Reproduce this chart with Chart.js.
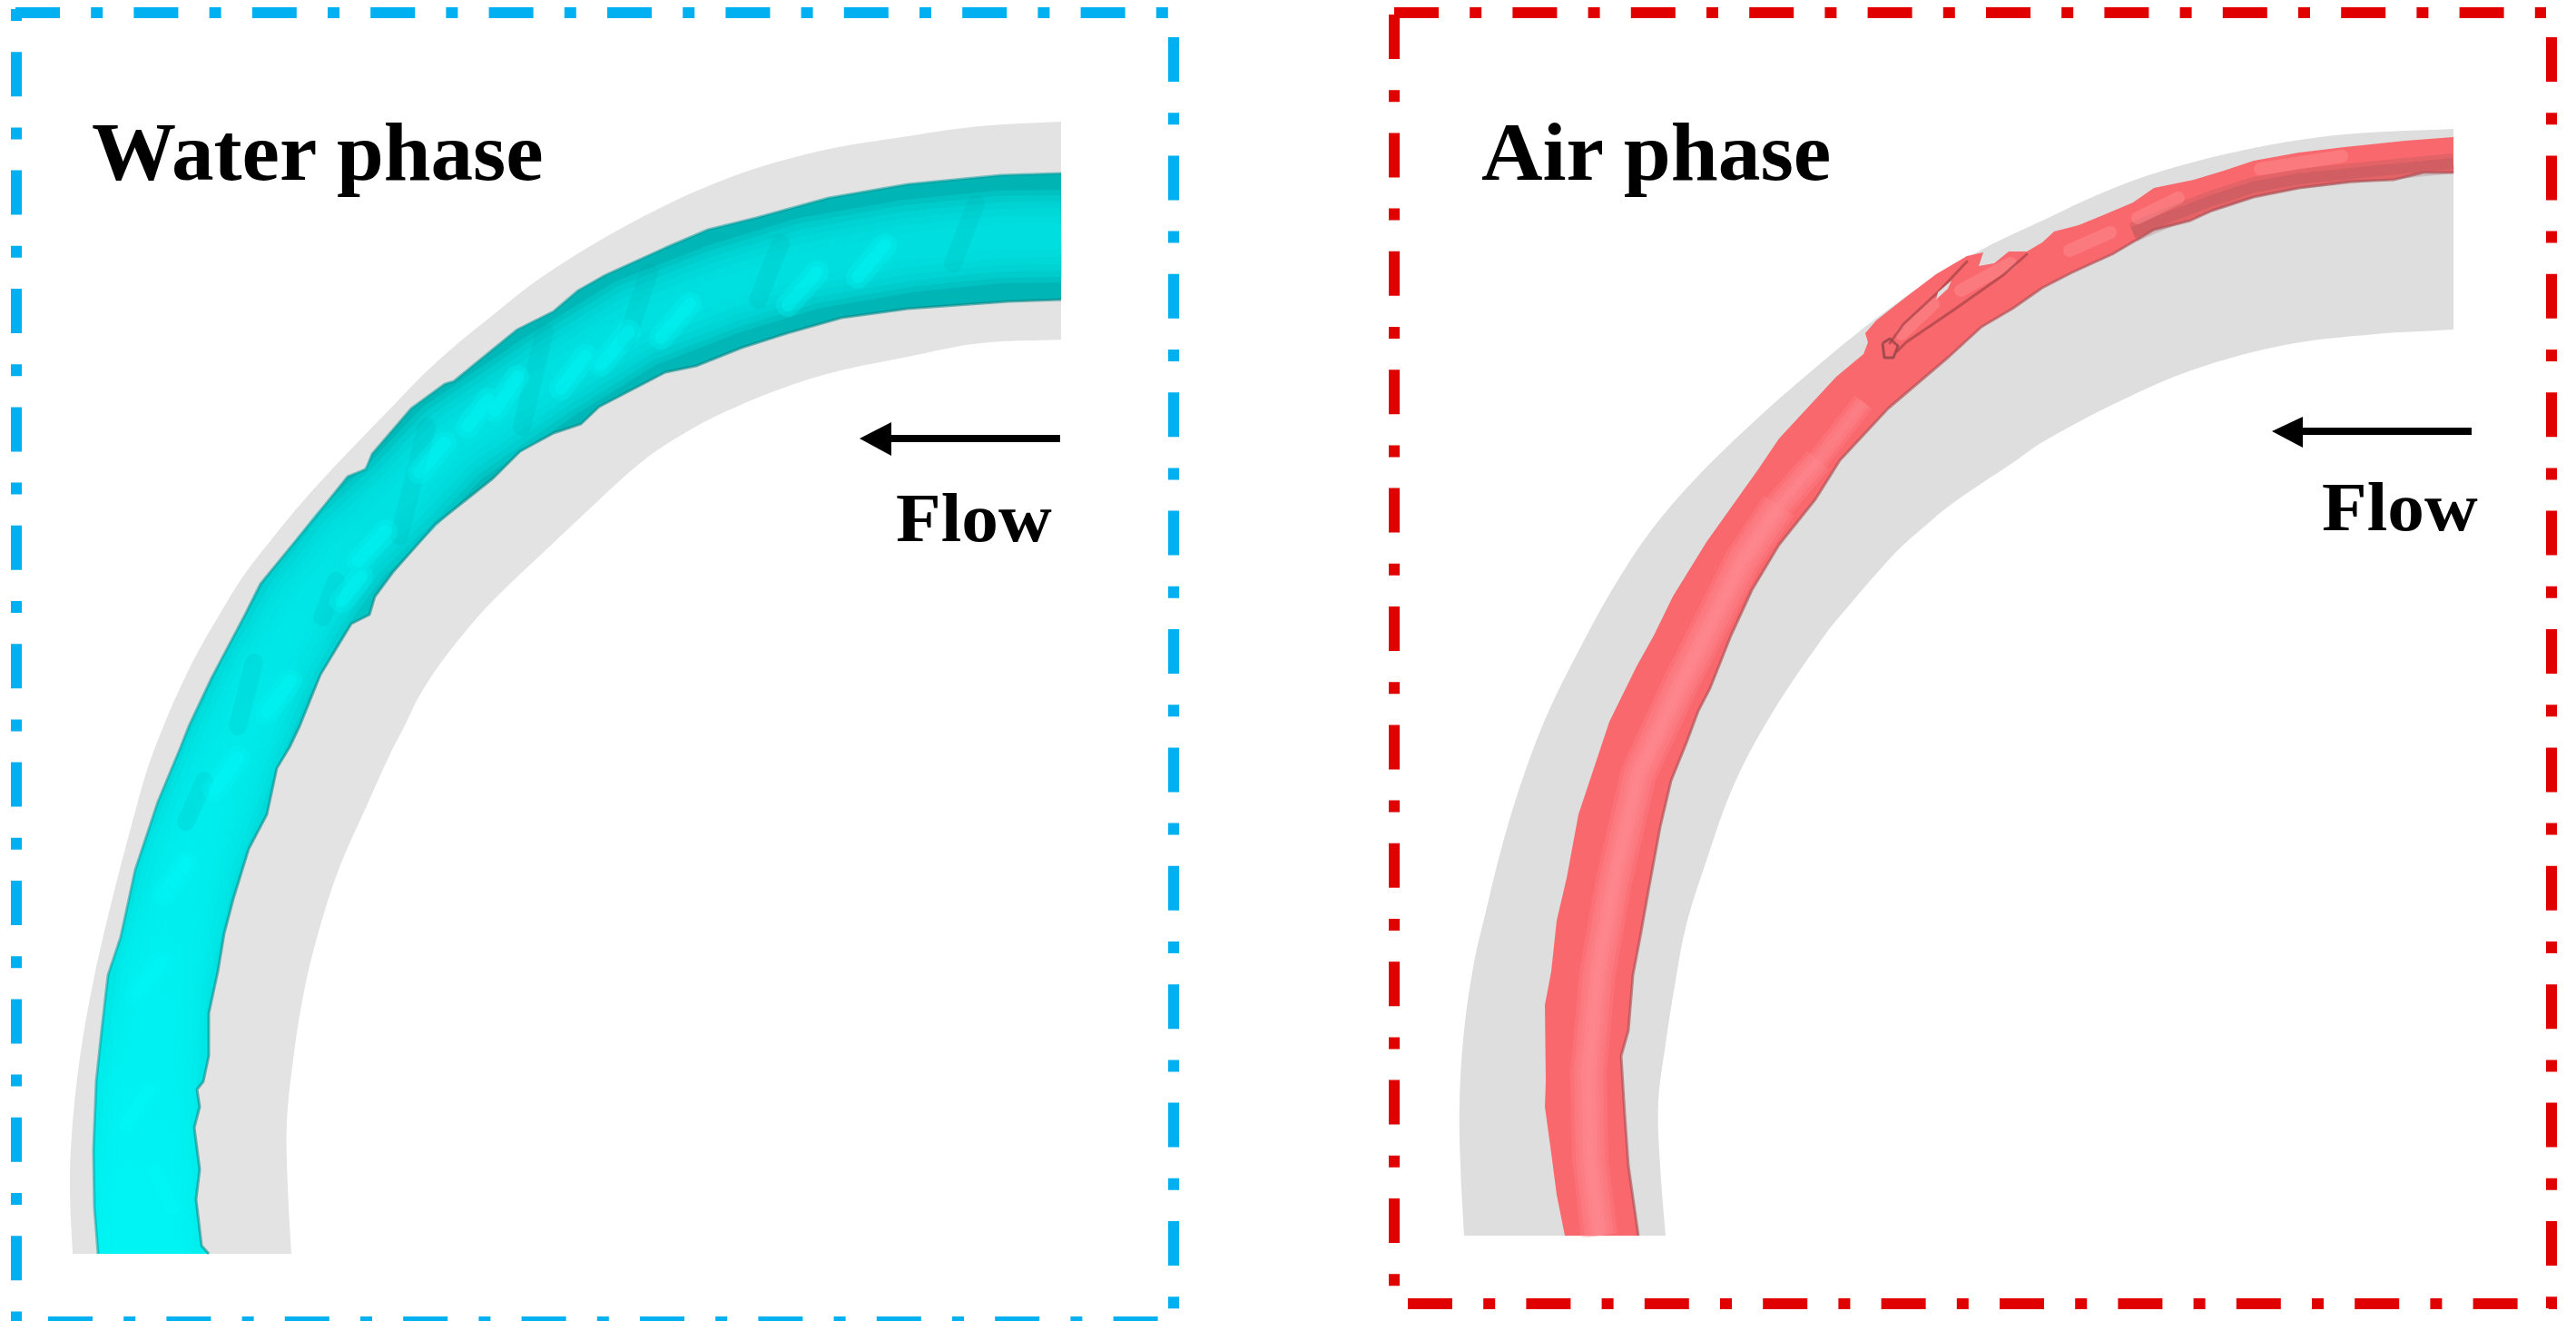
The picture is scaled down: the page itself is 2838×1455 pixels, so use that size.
<!DOCTYPE html>
<html>
<head>
<meta charset="utf-8">
<title>Water phase / Air phase</title>
<script src="https://cdn.jsdelivr.net/npm/chart.js@4"></script>
<style>
  html, body { margin: 0; padding: 0; background: #fff; overflow: hidden; }
  #wrap { position: relative; width: 2838px; height: 1455px; }
  canvas { position: absolute; left: 0; top: 0; }
  .lbl { position: absolute; font-family: "Liberation Serif", serif; font-weight: bold; color: #000; line-height: 1; white-space: nowrap; transform-origin: 0 0; }
</style>
</head>
<body>
<div id="wrap">
  <canvas id="grafico" width="2838" height="1455"></canvas>
  <div class="lbl" style="left:101px;top:123px;font-size:90px;transform:scaleX(1.035)">Water phase</div>
  <div class="lbl" style="left:1632px;top:123px;font-size:90px;transform:scaleX(1.039)">Air phase</div>
  <div class="lbl" style="left:987px;top:532px;font-size:76px;transform:scaleX(1.07)">Flow</div>
  <div class="lbl" style="left:2558px;top:520px;font-size:76px;transform:scaleX(1.07)">Flow</div>
</div>
<script>
// pipe wall, left panel
const wallAOuterX = [1169,1080,1000,900,800,700,600,533,500,467,433,377,333,300,267,240,217,195,178,163,150,125,104,88,79,77,80];
const wallAOuterY = [134,139,150,167,197,243,303,355,382,412,447,505,553,593,636,680,720,765,805,845,890,985,1075,1165,1250,1310,1381];
const wallAInnerX = [1169,1080,1000,900,800,733,697,650,600,565,533,505,480,460,447,430,406,373,348,334,323,316,317,321];
const wallAInnerY = [374,378,393,415,453,490,517,560,607,640,672,705,738,770,797,830,883,958,1037,1097,1167,1237,1307,1381];

// water band edges
const waterOuterX = [1169,1103,1000,913,833,780,733,667,637,610,570,533,500,490,453,410,403,383,347,287,270,233,208,199,174,149,133,119,112,106,103,104,108];
const waterOuterY = [191,193,203,218,240,253,273,303,320,343,363,393,420,423,450,500,517,525,570,643,677,747,800,823,883,958,1032,1074,1135,1191,1267,1330,1381];
const waterInnerX = [1169,1111,1000,927,867,817,767,733,660,640,610,573,543,480,433,413,407,387,353,330,319,305,294,274,257,247,240,230,230,224,217,220,214,220,216,222,230];
const waterInnerY = [330,332,340,350,367,383,403,410,448,467,477,497,527,577,630,657,677,687,743,800,823,846,897,935,990,1028,1070,1116,1163,1191,1200,1219,1242,1288,1321,1372,1381];
const waterCoreX = [1169,1100,1000,890,798,700,605,498,442,385,337,293,259,211,180,165,162,162];
const waterCoreY = [260,261,271,290,318,356,415,488,547,600,665,745,823,947,1072,1191,1300,1381];
const waterGlintX = [975,945,null,900,868,null,760,728,null,693,662,null,645,618,null,570,545,null,538,515,null,490,462,null,425,395,null,398,376,null,320,294,null,262,236,null,205,180,null,178,150,null,165,138,null,170,190];
const waterGlintY = [270,305,null,300,336,null,335,372,null,365,402,null,392,428,null,415,452,null,440,470,null,488,520,null,585,618,null,635,662,null,750,785,null,835,870,null,950,985,null,1060,1095,null,1200,1240,null,1290,1330];
const waterDentX = [1075,1050,null,860,835,null,715,690,null,600,575,null,470,440,null,370,355,null,280,262,null,225,205];
const waterDentY = [225,290,null,268,330,null,300,375,null,365,470,null,470,590,null,640,680,null,730,800,null,860,905];

// pipe wall, right panel
const wallBOuterX = [2703,2583,2483,2383,2317,2250,2187,2120,2060,2000,1937,1870,1820,1780,1748,1705,1675,1654,1637,1624,1613,1608,1609,1613];
const wallBOuterY = [142,148,163,188,212,243,273,313,356,405,460,525,583,643,700,786,865,935,1004,1060,1135,1214,1284,1361];
const wallBInnerX = [2703,2617,2517,2417,2333,2250,2220,2153,2120,2087,2037,2010,1952,1910,1880,1858,1846,1835,1827,1829,1835];
const wallBInnerY = [363,368,380,407,443,487,508,553,580,610,667,700,786,865,948,1018,1080,1150,1214,1284,1361];

// air band edges
const airOuterX = [2703,2650,2583,2533,2483,2450,2417,2373,2350,2317,2290,2263,2250,2233,2213,2197,2180,2185,2167,2133,2100,2067,2055,2058,2053,2023,1960,1937,1880,1843,1822,1803,1773,1756,1739,1726,1715,1709,1702,1703,1702,1709,1715,1724];
const airOuterY = [151,155,162,168,177,188,198,207,223,237,248,255,267,277,277,290,293,278,282,302,327,353,367,377,390,415,483,517,597,657,700,734,795,846,897,967,1014,1070,1107,1191,1219,1270,1316,1361];
const airInnerX = [2703,2670,2637,2590,2533,2483,2437,2413,2373,2327,2283,2250,2217,2183,2147,2080,2027,2000,1960,1930,1907,1884,1871,1858,1841,1829,1817,1807,1799,1794,1786,1790,1794,1805];
const airInnerY = [190,190,198,200,207,217,232,243,253,280,300,317,340,360,393,450,507,550,600,650,700,758,783,818,860,911,976,1032,1074,1135,1163,1228,1284,1361];
const airShadeX = [2703,2600,2533,2483,2437,2390,2350];
const airShadeY = [180,190,197,206,221,239,256];
const airCoreX = [2053,2003,1960,1920,1887,1853,1805,1778,1760,1750,1752,1762];
const airCoreY = [443,507,557,617,683,750,853,971,1072,1180,1277,1361];
const airGlintX = [2580,2490,null,2400,2355,null,2325,2280,null,2215,2160,null,2130,2095];
const airGlintY = [172,186,null,218,240,null,256,276,null,290,320,null,335,368];
const airCrackX = [2167,2137,2097,2082,null,2233,2207,2150,2100,2090];
const airCrackY = [288,320,357,378,null,280,303,343,377,387];
const airLoopX = [2074,2082,2091,2086,2076,2074];
const airLoopY = [378,373,381,394,394,378];
const airHoleX = [2135,2150,2146,2133,2135];
const airHoleY = [322,309,318,330,322];

// flow arrows
const arrowAShaftX = [1168,980];
const arrowAShaftY = [483,483];
const arrowAHeadX = [947,982,982];
const arrowAHeadY = [483,465,502];
const arrowBShaftX = [2723,2535];
const arrowBShaftY = [475,475];
const arrowBHeadX = [2503,2537,2537];
const arrowBHeadY = [475,459,493];

// dash-dot frames
const frameATopX = [17,1287];       const frameATopY = [14,14];
const frameALeftX = [18,18];        const frameALeftY = [10,1455];
const frameARightX = [1293,1293];   const frameARightY = [41,1455];
const frameABottomX = [53,1287];    const frameABottomY = [1456,1456];
const frameBTopX = [1536,2805];     const frameBTopY = [14,14];
const frameBLeftX = [1536,1536];    const frameBLeftY = [16,1420];
const frameBRightX = [2811,2811];   const frameBRightY = [41,1441];
const frameBBottomX = [1551,2817];  const frameBBottomY = [1436,1436];

const AZUL = '#00B0F0';
const VERMELHO = '#E00000';
const DASH = [49, 34.2, 13, 34.2];
const DASH_DOT_FIRST = [13, 34.2, 49, 34.2];

function pontos(xs, ys) {
  return xs.map((x, i) => ({ x: x, y: ys[i] }));
}

// corners repeated so a curved edge stays sharp where the two walls meet the cut
function faixa(xa, ya, xb, yb) {
  const xr = xb.slice().reverse();
  const yr = yb.slice().reverse();
  return pontos(
    xa.concat([xa[xa.length - 1], xr[0]], xr),
    ya.concat([ya[ya.length - 1], yr[0]], yr)
  );
}

const canvas = document.getElementById('grafico');
const ctx = canvas.getContext('2d');

const gradAgua = ctx.createLinearGradient(1169, 200, 120, 1381);
gradAgua.addColorStop(0, '#00B4B4');
gradAgua.addColorStop(0.45, '#00B8B8');
gradAgua.addColorStop(0.7, '#00DADA');
gradAgua.addColorStop(1, '#00F2F2');

const gradNucleo = ctx.createLinearGradient(1169, 200, 120, 1381);
gradNucleo.addColorStop(0, 'rgba(0,228,228,0.28)');
gradNucleo.addColorStop(0.5, 'rgba(0,232,232,0.28)');
gradNucleo.addColorStop(1, 'rgba(0,245,245,0.4)');

const camadas = [];

function forma(data, cor, tensao) {
  camadas.push({ data: data, fill: 'shape', backgroundColor: cor, borderWidth: 0, borderColor: 'transparent', tension: tensao || 0 });
}

function linha(xs, ys, cor, largura, dash, cap) {
  camadas.push({ data: pontos(xs, ys), fill: false, borderColor: cor, borderWidth: largura, borderDash: dash || [], borderCapStyle: cap || 'butt', borderJoinStyle: cap === 'round' ? 'round' : 'bevel' });
}

forma(faixa(wallAOuterX, wallAOuterY, wallAInnerX, wallAInnerY), '#E3E3E3', 0.35);
forma(faixa(wallBOuterX, wallBOuterY, wallBInnerX, wallBInnerY), '#DEDEDE', 0.35);

forma(faixa(waterOuterX, waterOuterY, waterInnerX, waterInnerY), gradAgua);
[102, 90, 76, 62, 46, 28].forEach(w => linha(waterCoreX, waterCoreY, gradNucleo, w));
linha(waterDentX, waterDentY, 'rgba(0,165,165,0.14)', 20, [], 'round');
linha(waterGlintX, waterGlintY, 'rgba(0,245,245,0.3)', 26, [], 'round');
linha(waterGlintX, waterGlintY, 'rgba(0,248,248,0.35)', 14, [], 'round');
linha(waterOuterX, waterOuterY, 'rgba(0,150,150,0.5)', 3);
linha(waterInnerX, waterInnerY, 'rgba(0,130,130,0.55)', 3);

forma(faixa(airOuterX, airOuterY, airInnerX, airInnerY), '#F9686C');
linha(airShadeX, airShadeY, 'rgba(150,80,85,0.22)', 22);
linha(airShadeX, airShadeY, 'rgba(150,80,85,0.25)', 12);
linha(airInnerX, airInnerY, 'rgba(165,75,80,0.6)', 3);
// wider layers start lower so the highlight tapers in instead of starting with a flat cut
[[40, 2], [32, 1], [24, 0], [16, 0], [8, 0]].forEach(([w, k]) => linha(airCoreX.slice(k), airCoreY.slice(k), 'rgba(255,145,150,0.25)', w));
linha(airGlintX, airGlintY, 'rgba(255,150,155,0.4)', 14, [], 'round');
linha(airCrackX, airCrackY, 'rgba(165,65,70,0.7)', 3, [], 'round');
linha(airLoopX, airLoopY, 'rgba(150,70,75,0.85)', 3);
forma(pontos(airHoleX, airHoleY), '#DEDEDE');

linha(arrowAShaftX, arrowAShaftY, '#000', 8);
forma(pontos(arrowAHeadX, arrowAHeadY), '#000');
linha(arrowBShaftX, arrowBShaftY, '#000', 8);
forma(pontos(arrowBHeadX, arrowBHeadY), '#000');

linha(frameATopX, frameATopY, AZUL, 12, DASH);
linha(frameALeftX, frameALeftY, AZUL, 12, DASH_DOT_FIRST);
linha(frameARightX, frameARightY, AZUL, 12, DASH);
linha(frameABottomX, frameABottomY, AZUL, 12, DASH);
linha(frameBTopX, frameBTopY, VERMELHO, 12, DASH);
linha(frameBLeftX, frameBLeftY, VERMELHO, 12, DASH);
linha(frameBRightX, frameBRightY, VERMELHO, 12, DASH);
linha(frameBBottomX, frameBBottomY, VERMELHO, 12, DASH);

// first dataset paints on top in Chart.js, so order follows the list above
camadas.forEach((c, i) => { c.order = camadas.length - i; c.pointRadius = 0; c.tension = c.tension || 0; c.spanGaps = false; });

new Chart(canvas, {
  type: 'line',
  data: { datasets: camadas },
  options: {
    responsive: false,
    animation: false,
    devicePixelRatio: 1,
    layout: { padding: 0 },
    plugins: { legend: { display: false }, tooltip: { enabled: false } },
    scales: {
      x: { type: 'linear', min: 0, max: 2838, display: false },
      y: { type: 'linear', min: 0, max: 1455, reverse: true, display: false }
    }
  }
});
</script>
</body>
</html>
